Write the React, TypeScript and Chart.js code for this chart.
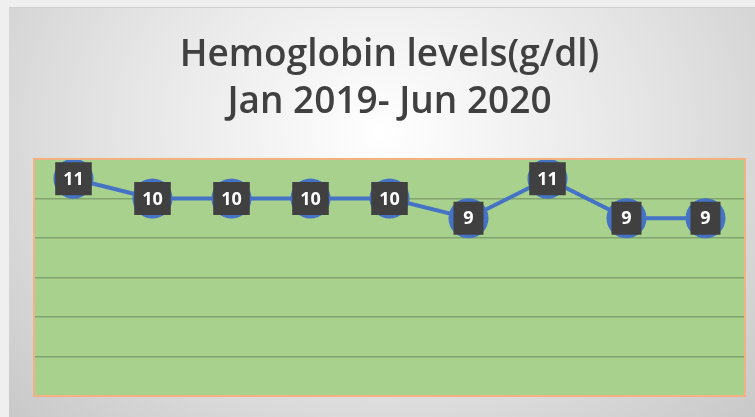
import React, { useEffect, useRef } from "react";
import { Chart, registerables } from "chart.js";

Chart.register(...registerables);

const titleLines = ["Hemoglobin levels(g/dl)", "Jan 2019- Jun 2020"];
const categories = ["Jan 2019", "Mar 2019", "May 2019", "Jul 2019", "Sep 2019", "Nov 2019", "Jan 2020", "Mar 2020", "Jun 2020"];
const hemoglobin = [11, 10, 10, 10, 10, 9, 11, 9, 9];
const yMin = 0;
const yMax = 12;
const yStep = 2;

const plotAreaPlugin = {
  id: "plotArea",
  beforeDraw(chart: any) {
    const { ctx, chartArea } = chart;
    ctx.save();
    ctx.fillStyle = "#a9d18e";
    ctx.fillRect(chartArea.left, chartArea.top, chartArea.right - chartArea.left, chartArea.bottom - chartArea.top);
    ctx.restore();
  },
  afterDraw(chart: any) {
    const { ctx, chartArea } = chart;
    ctx.save();
    ctx.strokeStyle = "#f4b183";
    ctx.lineWidth = 2;
    ctx.strokeRect(chartArea.left, chartArea.top, chartArea.right - chartArea.left, chartArea.bottom - chartArea.top);
    ctx.restore();
  },
};

const labelPlugin = {
  id: "boxLabels",
  afterDatasetsDraw(chart: any) {
    const { ctx } = chart;
    const meta = chart.getDatasetMeta(0);
    const data = chart.data.datasets[0].data;
    ctx.save();
    ctx.font = "bold 18px 'Open Sans'";
    ctx.textAlign = "center";
    ctx.textBaseline = "middle";
    meta.data.forEach((pt: any, i: number) => {
      const text = String(data[i]);
      const w = Math.max(ctx.measureText(text).width + 16, 30);
      const h = 33;
      ctx.fillStyle = "#404040";
      ctx.fillRect(pt.x - w / 2, pt.y - h / 2, w, h);
      ctx.fillStyle = "#ffffff";
      ctx.fillText(text, pt.x, pt.y + 1);
    });
    ctx.restore();
  },
};

export default function App() {
  const canvasRef = useRef<HTMLCanvasElement | null>(null);

  useEffect(() => {
    if (!canvasRef.current) return;
    const chart = new Chart(canvasRef.current, {
      type: "line",
      data: {
        labels: categories,
        datasets: [
          {
            data: hemoglobin,
            borderColor: "#4472c4",
            backgroundColor: "#4472c4",
            borderWidth: 4,
            pointRadius: 20,
            pointBackgroundColor: "#4472c4",
            pointBorderColor: "#4472c4",
            pointBorderWidth: 0,
            tension: 0,
            clip: false as any,
          },
        ],
      },
      options: {
        responsive: false,
        animation: false,
        layout: { autoPadding: false, padding: { left: 25, right: 10, bottom: 21, top: 0 } },
        plugins: {
          legend: { display: false },
          tooltip: { enabled: false },
          title: {
            display: true,
            text: titleLines,
            color: "#404040",
            font: { family: "'Open Sans'", size: 37, weight: 600 as any, lineHeight: 1.27 },
            padding: { top: 23.5, bottom: 33.5 },
          },
        },
        scales: {
          x: {
            display: false,
            offset: true,
          },
          y: {
            display: true,
            min: yMin,
            max: yMax,
            ticks: { display: false, stepSize: yStep },
            grid: { color: "#82a46e", lineWidth: 1.5, drawTicks: false },
            border: { display: false },
          },
        },
      },
      plugins: [plotAreaPlugin, labelPlugin],
    });
    return () => chart.destroy();
  }, []);

  return (
    <div style={{ position: "fixed", left: 0, top: 0, width: 755, height: 417, background: "#efefef", overflow: "hidden" }}>
      <div
        style={{
          position: "absolute",
          left: 9,
          top: 8,
          width: 746,
          height: 409,
          background: "radial-gradient(ellipse 75% 110% at 50% 30%, #ffffff 0%, #e6e6e6 45%, #c4c4c4 100%)",
          boxShadow: "0 -1px 0 #d0d0d0",
        }}
      >
        <canvas ref={canvasRef} width={746} height={409} style={{ display: "block", width: 746, height: 409 }} />
      </div>
    </div>
  );
}
